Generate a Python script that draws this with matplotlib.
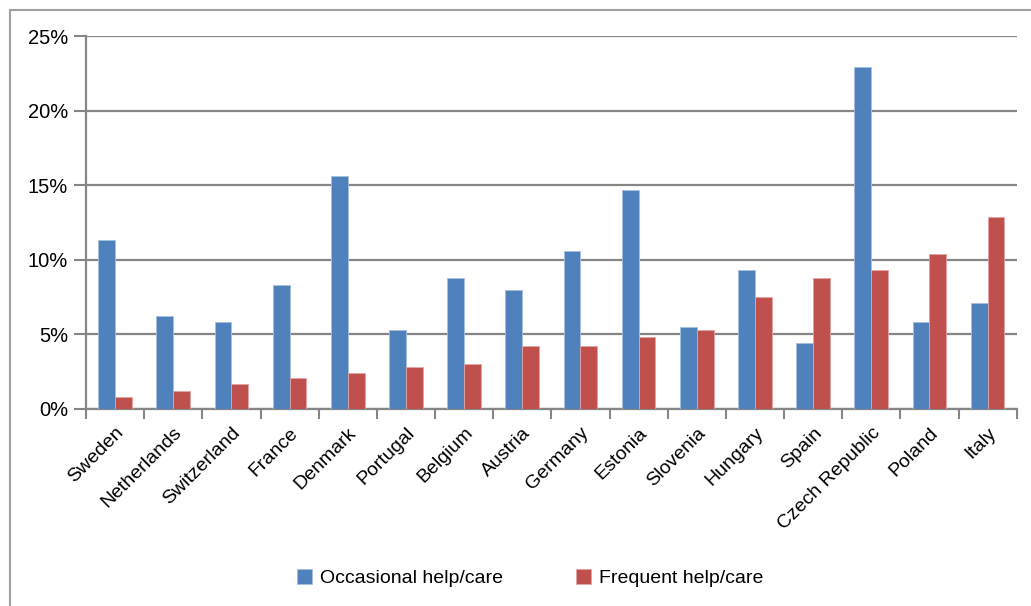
import numpy as np
import matplotlib.pyplot as plt
from matplotlib.lines import Line2D
from matplotlib.ticker import FuncFormatter, MultipleLocator

plt.rcParams['font.family'] = ['Liberation Sans', 'DejaVu Sans']

# share of people giving help/care, by country (%)
countries = ["Sweden", "Netherlands", "Switzerland", "France", "Denmark", "Portugal",
             "Belgium", "Austria", "Germany", "Estonia", "Slovenia", "Hungary",
             "Spain", "Czech Republic", "Poland", "Italy"]
occasional = [11.3, 6.2, 5.8, 8.3, 15.6, 5.3, 8.8, 8.0, 10.6, 14.7, 5.5, 9.3, 4.4, 22.9, 5.8, 7.1]
frequent = [0.8, 1.2, 1.7, 2.1, 2.4, 2.8, 3.0, 4.2, 4.2, 4.8, 5.3, 7.5, 8.8, 9.3, 10.4, 12.9]

blue = "#4F81BD"
red = "#C0504D"
grey = "#868686"

fig = plt.figure(figsize=(10.31, 6.06), dpi=100)
W, H = 1031, 606
ax = fig.add_axes([86 / W, 1 - 409 / H, (1016.7 - 86) / W, (409 - 36) / H])

x = np.arange(len(countries))
bw = 0.29
ax.bar(x - bw / 2, occasional, bw, color=blue, edgecolor="#A7C0E0", linewidth=0.6,
       label="Occasional help/care", zorder=3)
ax.bar(x + bw / 2, frequent, bw, color=red, edgecolor="#E2A4A2", linewidth=0.6,
       label="Frequent help/care", zorder=3)

ax.set_xlim(-0.5, len(countries) - 0.5)
ax.set_ylim(0, 25)
ax.yaxis.set_major_locator(MultipleLocator(5))
ax.yaxis.set_major_formatter(FuncFormatter(lambda v, p: f"{v:.0f}%"))
ax.grid(axis="y", color=grey, linewidth=1.6, zorder=0)

ax.set_xticks(x)
ax.set_xticklabels(countries, rotation=45, ha="right", va="top", rotation_mode="anchor",
                   fontsize=14)
ax.set_xticks(np.arange(-0.5, len(countries)), minor=True)
ax.tick_params(axis="x", which="major", length=0, pad=11)
ax.tick_params(axis="x", which="minor", length=7, width=1.5, color=grey, direction="out")
ax.tick_params(axis="y", length=9, width=1.5, color=grey, labelsize=14.5, pad=4)

for s in ["top", "right"]:
    ax.spines[s].set_visible(False)
for s in ["left", "bottom"]:
    ax.spines[s].set_color(grey)
    ax.spines[s].set_linewidth(1.6)

# outer chart frame
fig.add_artist(Line2D([10 / W, 1], [1 - 10 / H, 1 - 10 / H], color="#A0A0A0", linewidth=1.5))
fig.add_artist(Line2D([10 / W, 10 / W], [0, 1 - 10 / H], color="#A0A0A0", linewidth=1.5))

fig.legend(loc="center", bbox_to_anchor=(530 / W, 1 - 578 / H), ncol=2, frameon=False,
           fontsize=14, handlelength=0.8, handleheight=0.8, handletextpad=0.4,
           columnspacing=3.75)

fig.savefig("out.png", dpi=100)
